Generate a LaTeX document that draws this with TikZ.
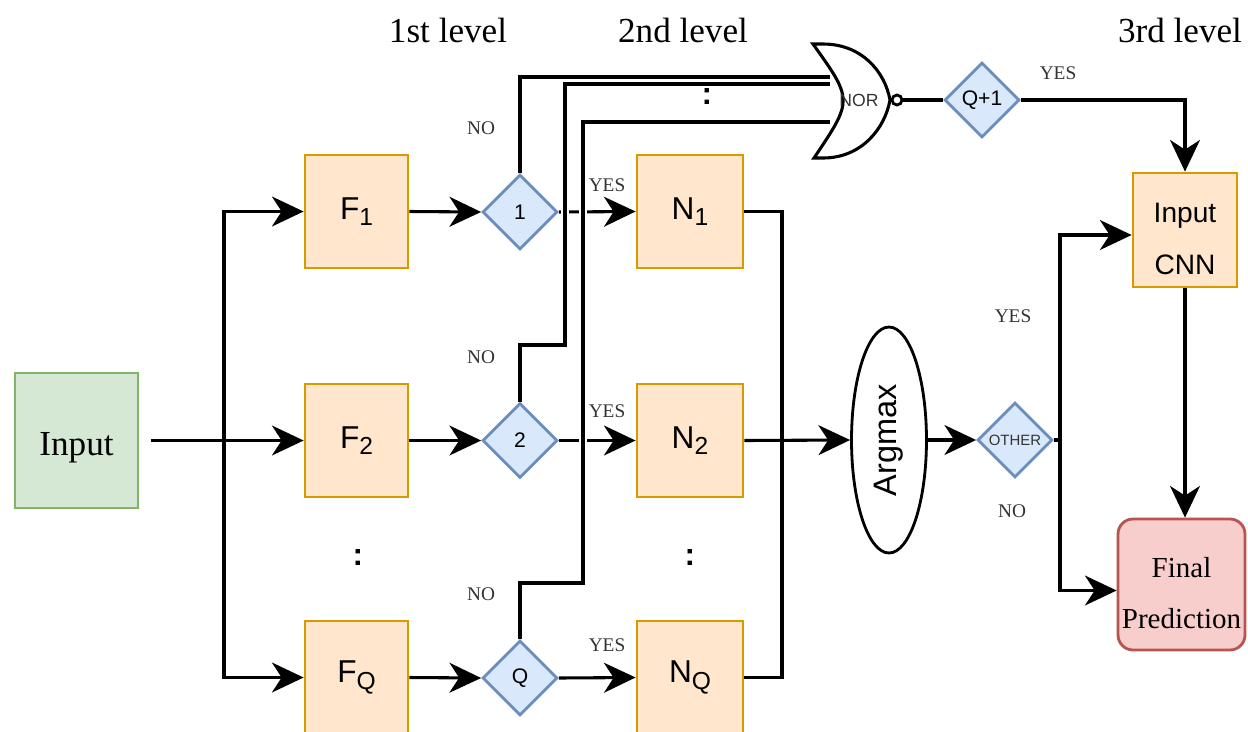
\documentclass[tikz,border=0pt]{standalone}
\usepackage{fontspec}
\setmainfont{Liberation Serif}
\setsansfont{Liberation Sans}
\usetikzlibrary{shapes.geometric,arrows.meta,calc}
\pgfdeclarelayer{bg}
\pgfsetlayers{bg,main}
\definecolor{orangeF}{HTML}{FFE6CC}
\definecolor{orangeS}{HTML}{D79B00}
\definecolor{blueF}{HTML}{DAE8FC}
\definecolor{blueS}{HTML}{6C8EBF}
\definecolor{greenF}{HTML}{D5E8D4}
\definecolor{greenS}{HTML}{82B366}
\definecolor{redF}{HTML}{F8CECC}
\definecolor{redS}{HTML}{B85450}
\definecolor{txtgray}{HTML}{333333}
\newcommand{\mysub}[1]{\raisebox{-3.8pt}{\fontsize{14pt}{14pt}\selectfont #1}}
\begin{document}
\begin{tikzpicture}[x=0.02cm,y=-0.02cm,
  conn/.style={line width=1.75pt, draw=black},
  arr/.style={conn, -{Stealth[length=18pt,width=17pt,inset=5.5pt]}},
  halo/.style={preaction={draw=white, line width=5pt}},
  obox/.style={rectangle, draw=orangeS, fill=orangeF, line width=1.6pt,
    minimum width=2.06cm, minimum height=2.26cm, inner sep=0pt,
    font=\sffamily\fontsize{18pt}{20pt}\selectfont},
  nbox/.style={obox, minimum width=2.12cm},
  dia/.style={diamond, aspect=1, draw=blueS, fill=blueF, line width=1.6pt,
    minimum width=1.5cm, minimum height=1.5cm, inner sep=0pt,
    font=\sffamily\fontsize{12pt}{14pt}\selectfont},
  lab/.style={inner sep=0pt, text=txtgray, font=\fontsize{11pt}{13pt}\selectfont},
  ttl/.style={inner sep=0pt, font=\fontsize{20pt}{24pt}\selectfont},
  dots/.style={inner sep=0pt, font=\sffamily\bfseries\fontsize{18pt}{20pt}\selectfont}
]
\useasboundingbox (0,0) rectangle (1248,731);

% titles
\node[ttl] (t1) at (448,30) {1st level};
\node[ttl] (t2) at (683,30) {2nd level};
\node[ttl] (t3) at (1180,30) {3rd level};

% input
\node[rectangle, draw=greenS, fill=greenF, line width=1.6pt, minimum width=2.46cm,
  minimum height=2.7cm, inner sep=0pt] (in) at (76.5,440.5) {};
\node[inner sep=0pt, font=\fontsize{20pt}{24pt}\selectfont] (int) at (76.5,448) {Input};

% first level boxes
\node[obox] (F1) at (356.5,211.5) {F\mysub{1}};
\node[obox] (F2) at (356.5,440.5) {F\mysub{2}};
\node[obox] (FQ) at (356.5,677.5) {F\mysub{Q}};

% decision diamonds
\node[dia] (d1) at (520,212) {1};
\node[dia] (d2) at (520,440.5) {2};
\node[dia] (dQ) at (520,678) {Q};

% second level boxes
\node[nbox] (N1) at (690,211.5) {N\mysub{1}};
\node[nbox] (N2) at (690,440.5) {N\mysub{2}};
\node[nbox] (NQ) at (690,677.5) {N\mysub{Q}};

% argmax
\node[ellipse, draw, line width=1.6pt, fill=white, minimum width=1.5cm,
  minimum height=4.52cm, inner sep=0pt] (arg) at (889,440) {};
\node[rotate=90, inner sep=0pt, font=\sffamily\fontsize{18.5pt}{20pt}\selectfont]
  (argt) at (arg.center) {Argmax};

% other diamond
\node[dia, font=\sffamily\fontsize{8.5pt}{10pt}\selectfont, text=txtgray] (dO) at (1015,440) {OTHER};

% third level
\node[obox, minimum width=2.08cm, minimum height=2.28cm] (cnn) at (1185,230) {};
\node[inner sep=0pt, align=center, font=\sffamily\fontsize{16pt}{29.5pt}\selectfont]
  (cnnt) at (1185,239) {Input\\CNN};
\node[rectangle, rounded corners=0.3cm, draw=redS, fill=redF, line width=1.6pt,
  minimum width=2.54cm, minimum height=2.62cm, inner sep=0pt] (fin) at (1181.5,584.5) {};
\node[inner sep=0pt, align=center, font=\fontsize{16.5pt}{29.5pt}\selectfont]
  (fint) at (1181.5,593) {Final\\Prediction};

% NOR gate
\draw[line width=1.75pt, fill=white] (813,44) .. controls (853,100) .. (814,158)
  -- (823,158) .. controls (862,158) and (885,128) .. (890,100)
  .. controls (885,72) and (862,44) .. (823,44) -- cycle;
\node[inner sep=0pt, text=txtgray, font=\sffamily\fontsize{10pt}{12pt}\selectfont] (nort) at (859,100) {NOR};
\node[circle, draw, line width=1.6pt, fill=white, minimum size=0.2cm, inner sep=0pt] (bub) at (897,100) {};
\coordinate (nor1) at (830,77);
\coordinate (nor2) at (830,84);
\coordinate (nor3) at (830,122);

% Q+1 diamond
\node[dia] (dQ1) at (982,100) {Q+1};

% labels
\node[lab] (no1) at (481,128) {NO};
\node[lab] (no2) at (481,357) {NO};
\node[lab] (no3) at (481,594) {NO};
\node[lab] (yes1) at (607,185) {YES};
\node[lab] (yes2) at (607,411) {YES};
\node[lab] (yes3) at (607,645) {YES};
\node[lab] (yes4) at (1058,73) {YES};
\node[lab] (yes5) at (1013,316) {YES};
\node[lab] (no4) at (1012,511) {NO};

% dots
\node[dots] (dt1) at (358,558) {:};
\node[dots] (dt2) at (690,558) {:};
\node[dots] (dt3) at (707,97) {:};

% helper coordinates
\coordinate (br) at (224,440.5);
\coordinate (col) at (782,440.5);
\coordinate (k2) at (565,345);
\coordinate (kQ) at (583,583);
\coordinate (obr) at (1060,440);

\begin{pgfonlayer}{bg}
  % input fan-out
  \draw[arr, shorten <=0.24cm] (in.east) -- (F2.west);
  \draw[arr] (br) |- (F1.west);
  \draw[arr] (br) |- (FQ.west);
  % F -> diamonds
  \draw[arr] (F1.east) -- (d1.west);
  \draw[arr] (F2.east) -- (d2.west);
  \draw[arr] (FQ.east) -- (dQ.west);
  % diamonds -> N (YES)
  \draw[arr] (d1.east) -- (N1.west);
  \draw[arr] (d2.east) -- (N2.west);
  \draw[arr] (dQ.east) -- (NQ.west);
  % NO paths to NOR
  \draw[conn, halo] (d1.north) |- (nor1);
  \draw[conn, halo] (d2.north) |- (k2) |- (nor2);
  \draw[conn, halo] (dQ.north) |- (kQ) |- (nor3);
  % collector
  \draw[conn] (N1.east) -| (col) |- (NQ.east);
  \draw[arr] (N2.east) -- (arg.west);
  \draw[arr] (arg.east) -- (dO.west);
  % other branch
  \draw[conn] (dO.east) -- (obr);
  \draw[arr] (obr) |- ([yshift=-0.1cm]cnn.west);
  \draw[arr] (obr) |- ([yshift=-0.12cm]fin.west);
  \draw[arr] (cnn.south) -- (cnn.south |- fin.north);
  % NOR -> Q+1 -> CNN
  \draw[conn] (bub.east) -- (dQ1.west);
  \draw[arr] (dQ1.east) -| (cnn.north);
\end{pgfonlayer}
\end{tikzpicture}
\end{document}
